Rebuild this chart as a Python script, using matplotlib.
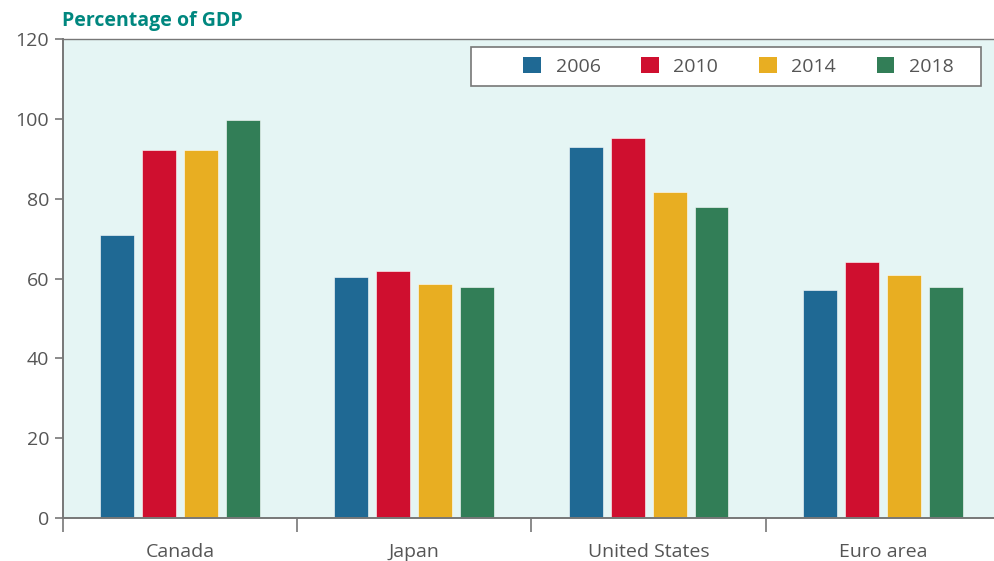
import numpy as np
import matplotlib
matplotlib.use("Agg")
import matplotlib.pyplot as plt
from matplotlib.patches import Patch, Rectangle

plt.rcParams['font.family'] = ['Liberation Sans Narrow', 'Open Sans', 'DejaVu Sans']

regions = ["Canada", "Japan", "United States", "Euro area"]
years = ["2006", "2010", "2014", "2018"]
v2006 = [70.9, 60.3, 93.0, 57.2]
v2010 = [92.2, 61.8, 95.3, 64.1]
v2014 = [92.2, 58.7, 81.6, 61.0]
v2018 = [99.8, 58.0, 77.8, 58.0]
colors = ["#1F6994", "#CF0F2F", "#E8AE22", "#327E57"]

series = [v2006, v2010, v2014, v2018]
gray = "#777777"
txt = "#555555"

fig = plt.figure(figsize=(9.95, 5.61), dpi=100)
ax = fig.add_axes([0.0633, 0.0766, 0.9417, 0.8538])
ax.set_facecolor("#E5F5F4")

x = np.arange(len(regions))
step = 0.179
width = 0.145
for i, vals in enumerate(series):
    ax.bar(x + (i - 1.5) * step, vals, width=width, color=colors[i],
           edgecolor="white", linewidth=0.4, zorder=2)

ax.set_xlim(-0.5, len(regions) - 0.5)
ax.set_ylim(0, 120)
ax.set_yticks(np.arange(0, 121, 20))
ax.set_xticks(np.arange(len(regions) + 1) - 0.5)
ax.set_xticklabels([])
ax.set_xticks(x, minor=True)
ax.set_xticklabels(regions, minor=True)
ax.tick_params(axis='x', which='major', length=10, width=1.2, color=gray, direction='out')
ax.tick_params(axis='x', which='minor', length=0, pad=18, labelsize=14, labelcolor=txt)
ax.tick_params(axis='y', length=6, width=1.2, color=gray, labelsize=14, labelcolor=txt, pad=4)

for s in ['left', 'bottom', 'top']:
    ax.spines[s].set_color(gray)
    ax.spines[s].set_linewidth(1.4)
ax.spines['top'].set_linewidth(1.0)
ax.spines['right'].set_visible(False)

fig.text(0.062, 0.962, "Percentage of GDP", color="#00877F", fontsize=14,
         fontweight='bold', ha='left', va='center')

# legend box drawn separately, entries sit a bit right of centre like the original
box = Rectangle((0.4354, 0.9019), 0.5443, 0.0814, transform=ax.transAxes,
                facecolor='white', edgecolor=gray, linewidth=1.2, zorder=3)
ax.add_patch(box)
handles = [Patch(facecolor=c, edgecolor='none') for c in colors]
leg = ax.legend(handles, years, loc='center', ncol=4, frameon=False,
                bbox_to_anchor=(0.721, 0.9426), borderaxespad=0, borderpad=0,
                fontsize=14, handlelength=0.9, handleheight=0.9, handletextpad=0.75,
                columnspacing=2.1)
leg.set_zorder(4)
for t in leg.get_texts():
    t.set_color(txt)

fig.savefig("out.png", dpi=100)
